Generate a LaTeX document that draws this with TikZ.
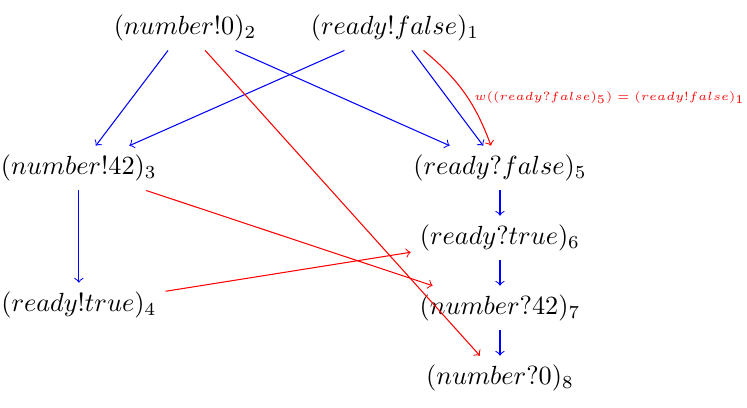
\documentclass[tikz,border=0pt]{standalone}
\usetikzlibrary{arrows,positioning}
\tikzset
{
    event/.style = {align=center},
    order/.style = {->, draw=blue},
    comm/.style  = {->, draw=red}
}
\begin{document}
\begin{tikzpicture}
\useasboundingbox (0,0) rectangle (10,5.449);
\node [event] at (2.477,5.074) (n2) {$(number!0)_2$};
\node [event] at (5.288,5.074) (n1) {$(ready!false)_1$};
\node [event] at (1.055,3.199) (n3) {$(number!42)_3$};
\node [event] at (1.055,1.365) (n4) {$(ready!true)_4$};
\node [event] at (6.693,3.199) (n5) {$(ready?false)_5$};
\node [event] at (6.693,2.262) (n6) {$(ready?true)_6$};
\node [event] at (6.693,1.325) (n7) {$(number?42)_7$};
\node [event] at (6.693,0.388) (n8) {$(number?0)_8$};
\draw [order] (n2) edge (n3);
\draw [order] (n1) edge (n3);
\draw [order] (n2) edge (n5);
\draw [order] (n1) edge (n5);
\draw [order] (n3) edge (n4);
\draw [order] (n5) edge (n6);
\draw [order] (n6) edge (n7);
\draw [order] (n7) edge (n8);
\draw [comm] (n1) edge [bend left=15] node [right, text=red, font=\tiny, scale=0.9, inner sep=1pt, xshift=3pt, yshift=-2pt] {$w((ready?false)_5) = (ready!false)_1$} (n5);
\draw [comm] (n2) edge (n8);
\draw [comm] (n3) edge (n7);
\draw [comm] (n4) edge (n6);
\end{tikzpicture}
\end{document}
